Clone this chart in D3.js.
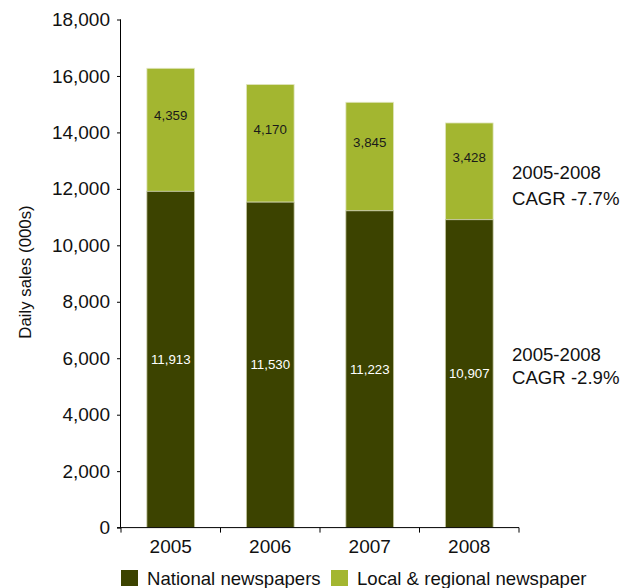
<!DOCTYPE html>
<html><head><meta charset="utf-8">
<script src="https://cdn.jsdelivr.net/npm/d3@7"></script>
<style>body{margin:0;background:#fff}svg{display:block;font-family:"Liberation Sans",Arial,Helvetica,sans-serif}</style>
</head><body>
<svg id="c" width="637" height="588"></svg>
<script>
const years = ["2005","2006","2007","2008"];
const national = [11913, 11530, 11223, 10907];
const local = [4359, 4170, 3845, 3428];
const yTicks = [0,2000,4000,6000,8000,10000,12000,14000,16000,18000];
const seriesNames = ["National newspapers","Local & regional newspaper"];
const colors = ["#3c4300","#a3b630"];
const cagrNotes = [["2005-2008","CAGR -7.7%"],["2005-2008","CAGR -2.9%"]];

(function(){
const svg = d3.select("#c");
const pLeft = 121, pRight = 519, pTop = 19.5, pBottom = 527.6;
const x = d3.scaleBand().domain(years).range([pLeft,pRight]).paddingInner(0.52).paddingOuter(0.26);
const y = d3.scaleLinear().domain([0,18000]).range([pBottom,pTop]);
const fmt = d3.format(",");

const g = svg.append("g");
years.forEach((yr,i)=>{
  const n = national[i], l = local[i];
  g.append("rect").attr("x",x(yr)).attr("width",x.bandwidth())
    .attr("y",y(n+l)).attr("height",y(n)-y(n+l))
    .attr("fill",colors[1]).attr("stroke","#e3e7c4").attr("stroke-width",0.8);
  g.append("rect").attr("x",x(yr)).attr("width",x.bandwidth())
    .attr("y",y(n)).attr("height",y(0)-y(n))
    .attr("fill",colors[0]).attr("stroke","#c9cca6").attr("stroke-width",0.8);
  g.append("text").attr("x",x(yr)+x.bandwidth()/2).attr("y",(y(n)+y(0))/2)
    .attr("text-anchor","middle").attr("dominant-baseline","central")
    .attr("font-size",13.3).attr("fill","#fff").text(fmt(n));
  g.append("text").attr("x",x(yr)+x.bandwidth()/2).attr("y",(y(n)+y(n+l))/2-14)
    .attr("text-anchor","middle").attr("dominant-baseline","central")
    .attr("font-size",13.3).attr("fill","#1a1a1a").text(fmt(l));
});

const ya = svg.append("g").attr("transform",`translate(${pLeft},0)`)
  .call(d3.axisLeft(y).tickValues(yTicks).tickFormat(fmt).tickSize(4).tickPadding(7));
ya.select(".domain").attr("stroke","#000").attr("d",`M-0.5,${pTop}V${pBottom}`);
ya.selectAll("text").attr("font-size",19).attr("fill","#111").attr("font-family","Liberation Sans, Arial, sans-serif");

const xa = svg.append("g").attr("transform",`translate(0,${pBottom})`);
xa.append("line").attr("x1",pLeft-4).attr("x2",pRight).attr("y1",0).attr("y2",0).attr("stroke","#000");
const edges = [pLeft].concat(years.map(yr=>x(yr)+x.bandwidth()+(x.step()-x.bandwidth())/2));
edges.forEach(e=>xa.append("line").attr("x1",e).attr("x2",e).attr("y1",0).attr("y2",5).attr("stroke","#000"));
years.forEach(yr=>xa.append("text").attr("x",x(yr)+x.bandwidth()/2).attr("y",19)
  .attr("text-anchor","middle").attr("dominant-baseline","central").attr("font-size",19).attr("fill","#111").text(yr));

svg.append("text").attr("transform","translate(25,272) rotate(-90)").attr("text-anchor","middle")
  .attr("dominant-baseline","central").attr("font-size",16.8).attr("fill","#111").text("Daily sales (000s)");

const noteY = [[172,198],[354,377]];
cagrNotes.forEach((lines,k)=>lines.forEach((t,j)=>svg.append("text").attr("x",512).attr("y",noteY[k][j])
  .attr("dominant-baseline","central").attr("font-size",18.6).attr("fill","#111").text(t)));

const legX = [121,331];
seriesNames.forEach((s,i)=>{
  svg.append("rect").attr("x",legX[i]).attr("y",570).attr("width",17).attr("height",16).attr("fill",colors[i]);
  svg.append("text").attr("x",legX[i]+26).attr("y",578).attr("dominant-baseline","central")
    .attr("font-size",18.6).attr("fill","#111").text(s);
});
})();
</script>
</body></html>
